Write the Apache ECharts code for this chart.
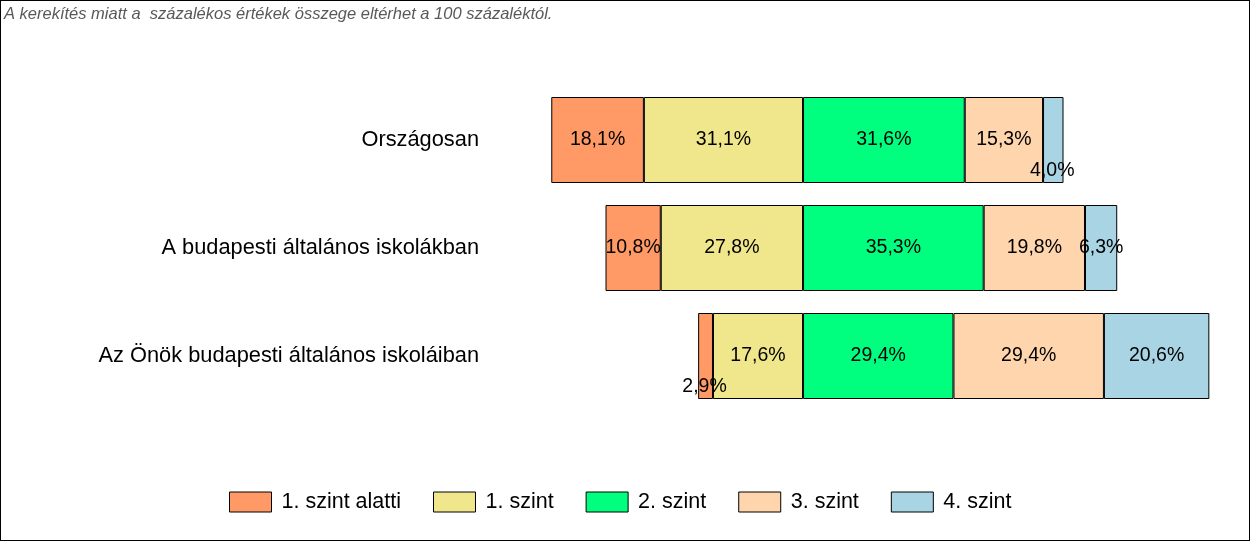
<!DOCTYPE html>
<html><head><meta charset="utf-8">
<script src="https://cdn.jsdelivr.net/npm/echarts@6/dist/echarts.min.js"></script>
<style>
html,body{margin:0;padding:0;background:#fff;}
#c{width:1250px;height:541px;box-sizing:border-box;border:1px solid #000;}
</style></head>
<body><div id="c"></div>
<script>
const categories = ['Országosan', 'A budapesti általános iskolákban', 'Az Önök budapesti általános iskoláiban'];
const levelNames = ['1. szint alatti', '1. szint', '2. szint', '3. szint', '4. szint'];
const below1 = [18.1, 10.8, 2.9];
const level1 = [31.1, 27.8, 17.6];
const level2 = [31.6, 35.3, 29.4];
const level3 = [15.3, 19.8, 29.4];
const level4 = [4.0, 6.3, 20.6];
const colors = ['#FF9966', '#F0E68C', '#00FF7F', '#FFD5AE', '#A8D4E4'];
const note = 'A kerekítés miatt a  százalékos értékek összege eltérhet a 100 százaléktól.';
const FONT = 'Liberation Sans, Arial, sans-serif';

function mk(name, vals, color, neg) {
  return {
    name: name, type: 'bar', stack: 'total', barWidth: 86,
    itemStyle: {color: color, borderColor: '#000', borderWidth: 1},
    data: vals.map(v => ({
      value: neg ? -v : v,
      label: v < 5 ? {offset: [-1, 31]} : {}
    })),
    label: {
      show: true, position: 'inside', color: '#000',
      fontFamily: FONT, fontSize: 19.5,
      formatter: p => Math.abs(p.value).toFixed(1).replace('.', ',') + '%'
    }
  };
}

const chart = echarts.init(document.getElementById('c'));
chart.setOption({
  animation: false,
  textStyle: {fontFamily: FONT},
  title: {
    text: note, left: 3, top: 5, padding: 0,
    textStyle: {fontSize: 16.5, fontStyle: 'italic', fontWeight: 'normal', color: '#595959', fontFamily: FONT}
  },
  legend: {
    data: levelNames, left: 228, top: 490, padding: 0, itemWidth: 42, itemHeight: 20, itemGap: 32,
    icon: 'rect',
    itemStyle: {borderColor: '#000', borderWidth: 1},
    textStyle: {fontSize: 21.5, color: '#000', padding: [0, 0, 0, 5], fontFamily: FONT}
  },
  grid: {left: 495, top: 85, width: 742, height: 324, containLabel: false},
  xAxis: {type: 'value', min: -60, max: 85, show: false},
  yAxis: {
    type: 'category', data: categories, inverse: true,
    axisLine: {show: false}, axisTick: {show: false}, splitLine: {show: false},
    axisLabel: {fontSize: 21.8, color: '#000', margin: 17, fontFamily: FONT}
  },
  series: [
    mk(levelNames[1], level1, colors[1], true),
    mk(levelNames[0], below1, colors[0], true),
    mk(levelNames[2], level2, colors[2], false),
    mk(levelNames[3], level3, colors[3], false),
    mk(levelNames[4], level4, colors[4], false)
  ]
});
</script></body></html>
